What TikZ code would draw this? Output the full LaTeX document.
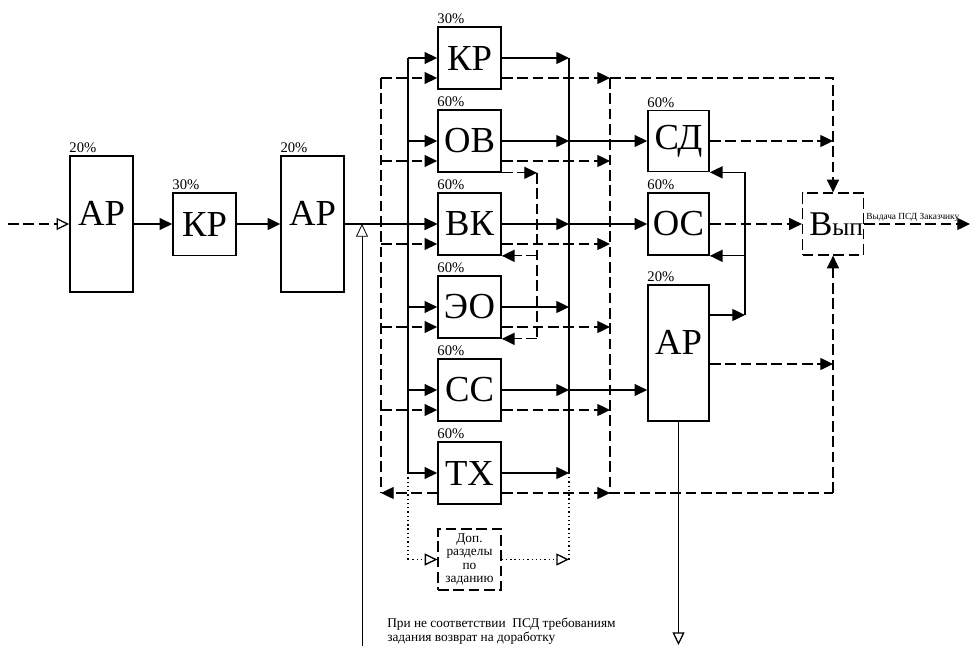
\documentclass[tikz,border=0pt]{standalone}
\usepackage{fontspec}
\setmainfont{Liberation Serif}
\usetikzlibrary{arrows.meta,calc}
\begin{document}
\begin{tikzpicture}[x=0.75pt,y=-0.75pt,
  box/.style={draw,line width=1.25pt,fill=white,inner sep=0pt,font=\fontsize{27.5}{27.5}\selectfont},
  mid/.style={box,minimum width=47.25pt,minimum height=46.5pt},
  tall/.style={box,minimum width=47.25pt,minimum height=102pt},
  pct/.style={anchor=south west,inner sep=0pt,yshift=1.5pt,font=\fontsize{11}{11}\selectfont},
  lbl/.style={inner sep=0pt,yshift=8pt,font=\fontsize{27.5}{27.5}\selectfont},
  ln/.style={line width=0.95pt},
  dsh/.style={line width=0.95pt,dash pattern=on 8pt off 3.5pt},
  dotl/.style={line width=1pt,dash pattern=on 1pt off 2.2pt},
  arr/.style={-{Triangle[length=9.5pt,width=9pt]}},
  oarr/.style={-{Triangle[open,length=9.5pt,width=9pt,fill=white]}},
]
\useasboundingbox (0,0) rectangle (970,646);

% left chain
\node[tall,label={[pct]north west:20\%},label={[lbl]center:АР}] (ar1) at (101.5,224) {};
\node[box,minimum width=47.25pt,minimum height=47pt,label={[pct]north west:30\%}] (kr1) at (204.5,224) {КР};
\node[tall,label={[pct]north west:20\%},label={[lbl]center:АР}] (ar2) at (312.6,224) {};

% middle column
\node[mid,label={[pct]north west:30\%}] (kr) at (469.5,58) {КР};
\node[mid,label={[pct]north west:60\%}] (ov) at (469.5,141) {ОВ};
\node[mid,label={[pct]north west:60\%}] (vk) at (469.5,224) {ВК};
\node[mid,label={[pct]north west:60\%}] (eo) at (469.5,307) {ЭО};
\node[mid,label={[pct]north west:60\%}] (cc) at (469.5,390) {СС};
\node[mid,label={[pct]north west:60\%}] (tx) at (469.5,473) {ТХ};

% right column
\node[box,minimum width=45.75pt,minimum height=45.75pt,label={[pct]north west:60\%}] (sd) at (678.5,141) {СД};
\node[box,minimum width=45.75pt,minimum height=46.5pt,label={[pct]north west:60\%}] (oc) at (678.5,224) {ОС};
\node[box,minimum width=45.75pt,minimum height=102pt,label={[pct]north west:20\%},label={[lbl,yshift=0.25pt]center:АР}] (ar3) at (678.5,353) {};

% output box
\node[draw,dsh,fill=white,inner sep=0pt,minimum width=45.75pt,minimum height=46.5pt] (vyp) at (833,224) {};
\node[anchor=base west,inner sep=0pt] (vypt) at (809,235) {{\fontsize{26}{26}\selectfont В}{\fontsize{19}{19}\selectfont ып}};
\node[anchor=base west,inner sep=0pt,font=\fontsize{7}{7}\selectfont] (outl) at (866,219) {Выдача ПСД Заказчику};

% additional sections box
\node[draw,dsh,fill=white,inner sep=0pt,minimum width=47.25pt,minimum height=45.75pt,align=center,font=\fontsize{10}{10.2}\selectfont] (dop) at (469.5,559.5) {Доп.\\разделы\\по\\заданию};

% note
\node[anchor=north west,inner sep=0pt,align=left,font=\fontsize{10}{9.2}\selectfont] (note) at (387,618) {При не соответствии\ \ ПСД требованиям\\задания возврат на доработку};

% bus coordinates
\coordinate (lbs) at (408,0);
\coordinate (lbd) at (381,0);
\coordinate (rbs) at (569,0);
\coordinate (rbd) at (610,0);
\coordinate (fbm) at (537,0);
\coordinate (fbr) at (745,0);
\coordinate (vx) at (833,0);
\coordinate (in) at (8,224);
\coordinate (out) at (970,224);
\coordinate (rb) at (362,646);
\coordinate (ar3b) at (678.5,645);

% left chain connectors
\draw[dsh,oarr] (in) -- (ar1.west);
\draw[ln,arr] (ar1) -- (kr1);
\draw[ln,arr] (kr1) -- (ar2);
\draw[ln,arr] (ar2.east) -- (vk.west);
\draw[line width=0.6pt,oarr] (rb) -- (rb |- ar2.east);

% buses
\draw[ln] (lbs |- kr.west) -- (lbs |- tx.west);
\draw[dsh] ($(lbd |- kr.west)+(0,20)$) -- ($(lbd |- tx.west)+(0,20)$);
\draw[ln] (rbs |- kr.east) -- (rbs |- tx.east);
\draw[dsh] ($(rbd |- kr.east)+(0,20)$) -- ($(rbd |- tx.east)+(0,20)$) -- ($(vx |- tx.east)+(0,20)$);
\draw[dsh,arr] ($(vx |- tx.east)+(0,20)$) -- (vyp.south);
\draw[dsh,arr] ($(rbd |- kr.east)+(0,20)$) -- ($(vx |- kr.east)+(0,20)$) -- (vyp.north);

% middle column inputs / outputs
\foreach \n in {kr,ov,vk,eo,cc,tx}{
  \draw[ln,arr] (lbs |- \n.west) -- (\n.west);
  \draw[ln,arr] (\n.east) -- (rbs |- \n.east);
  \draw[dsh,arr] ($(\n.east)+(0,20)$) -- ($(rbd |- \n.east)+(0,20)$);
}
\foreach \n in {kr,ov,vk,eo,cc}{
  \draw[dsh,arr] ($(lbd |- \n.west)+(0,20)$) -- ($(\n.west)+(0,20)$);
}
\draw[dsh,arr] ($(tx.west)+(0,20)$) -- ($(lbd |- tx.west)+(0,20)$);

% OV feedback to VK and EO
\draw[dsh,arr] (ov.south east) -- (fbm |- ov.south);
\draw[dsh] (fbm |- ov.south) -- (fbm |- eo.south);
\draw[dsh,arr] (fbm |- vk.south) -- (vk.south east);
\draw[dsh,arr] (fbm |- eo.south) -- (eo.south east);

% to right column
\draw[ln,arr] (rbs |- ov.east) -- (sd.west);
\draw[ln,arr] (rbs |- vk.east) -- (oc.west);
\draw[ln,arr] (rbs |- cc.east) -- (cc.east -| ar3.west);

% AR3 feedback
\draw[ln,arr] ($(ar3.east)+(0,-38)$) -- ($(fbr |- ar3.east)+(0,-38)$);
\draw[ln] ($(fbr |- ar3.east)+(0,-38)$) -- (fbr |- sd.south);
\draw[ln,arr] (fbr |- sd.south) -- (sd.south east);
\draw[ln,arr] (fbr |- oc.south) -- (oc.south east);

% dashed to output
\draw[dsh,arr] (sd.east) -- (vx |- sd.east);
\draw[dsh,arr] (oc.east) -- (vyp.west);
\draw[dsh,arr] ($(ar3.east)+(0,11)$) -- ($(vx |- ar3.east)+(0,11)$);
\draw[dsh,arr] (vyp.east) -- (out);
\draw[ln,oarr] (ar3.south) -- (ar3b);

% dotted optional sections
\draw[dotl] (lbs |- tx.west) -- (lbs |- dop.west);
\draw[dotl,oarr] (lbs |- dop.west) -- (dop.west);
\draw[dotl,oarr] (dop.east) -- (rbs |- dop.east);
\draw[dotl] (rbs |- dop.east) -- (rbs |- tx.east);
\end{tikzpicture}
\end{document}
